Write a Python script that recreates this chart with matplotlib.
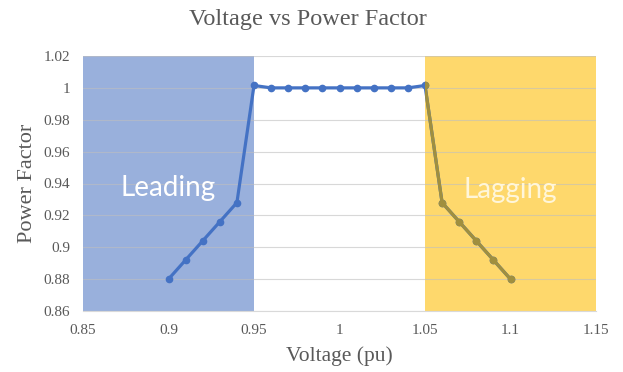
import matplotlib
matplotlib.use('Agg')
import matplotlib.pyplot as plt
from matplotlib.ticker import FuncFormatter

# voltage (pu) and power factor
voltage = [0.90, 0.91, 0.92, 0.93, 0.94, 0.95, 0.96, 0.97, 0.98, 0.99, 1.00,
           1.01, 1.02, 1.03, 1.04, 1.05, 1.06, 1.07, 1.08, 1.09, 1.10]
power_factor = [0.880, 0.892, 0.904, 0.916, 0.928, 1.0015, 1.0, 1.0, 1.0, 1.0, 1.0,
                1.0, 1.0, 1.0, 1.0, 1.0015, 0.928, 0.916, 0.904, 0.892, 0.880]

x_ticks = [0.85, 0.9, 0.95, 1.0, 1.05, 1.1, 1.15]
y_ticks = [0.86, 0.88, 0.9, 0.92, 0.94, 0.96, 0.98, 1.0, 1.02]
leading_range = (0.85, 0.95)
lagging_range = (1.05, 1.15)

gray = '#595959'
serif = 'Liberation Serif'

fig, ax = plt.subplots(figsize=(6.23, 3.72), dpi=100)
fig.subplots_adjust(left=83/623, right=596/623, top=1-56/372, bottom=1-311/372)

ax.set_xlim(0.85, 1.15)
ax.set_ylim(0.86, 1.02)

# shaded regions
ax.axvspan(*leading_range, color='#99B0DC', zorder=0.3, lw=0)
lag = ax.axvspan(*lagging_range, color='#FED86C', zorder=0.3, lw=0)

ax.set_axisbelow(True)
ax.grid(axis='y', color='#BFBFBF', alpha=0.6, lw=0.8)
ax.grid(axis='x', visible=False)

ax.plot(voltage, power_factor, color='#4472C4', lw=2.3, marker='o', ms=4.5, zorder=3)
# the yellow overlay tints the line olive
olive, = ax.plot(voltage, power_factor, color='#A08F3E', lw=2.3, marker='o', ms=4.5, zorder=4)
olive.set_clip_path(lag)

ax.set_xticks(x_ticks)
ax.set_yticks(y_ticks)
fmt = FuncFormatter(lambda v, p: '%g' % round(v, 2))
ax.xaxis.set_major_formatter(fmt)
ax.yaxis.set_major_formatter(fmt)
ax.tick_params(length=0, labelsize=11, colors=gray)
ax.tick_params(axis='x', pad=9)
ax.tick_params(axis='y', pad=9)
for lbl in ax.get_xticklabels() + ax.get_yticklabels():
    lbl.set_fontfamily(serif)

for side in ['top', 'right', 'left']:
    ax.spines[side].set_visible(False)
ax.spines['bottom'].set_color('#D9D9D9')

# title sits centred on the figure, not the plot area
ax.set_title('Voltage vs Power Factor', fontfamily=serif, fontsize=17.5, color=gray,
             pad=22, x=0.438)
ax.set_xlabel('Voltage (pu)', fontfamily=serif, fontsize=15.5, color=gray, labelpad=7)
ax.set_ylabel('Power Factor', fontfamily=serif, fontsize=16, color=gray, labelpad=5)

ax.text(0.9, 0.937, 'Leading', ha='center', va='center', fontsize=20,
        fontfamily='Lato', color='white', zorder=5)
ax.text(1.1, 0.936, 'Lagging', ha='center', va='center', fontsize=20,
        fontfamily='Lato', color='#FFF6DA', zorder=5)

fig.savefig('out.png', dpi=100)
